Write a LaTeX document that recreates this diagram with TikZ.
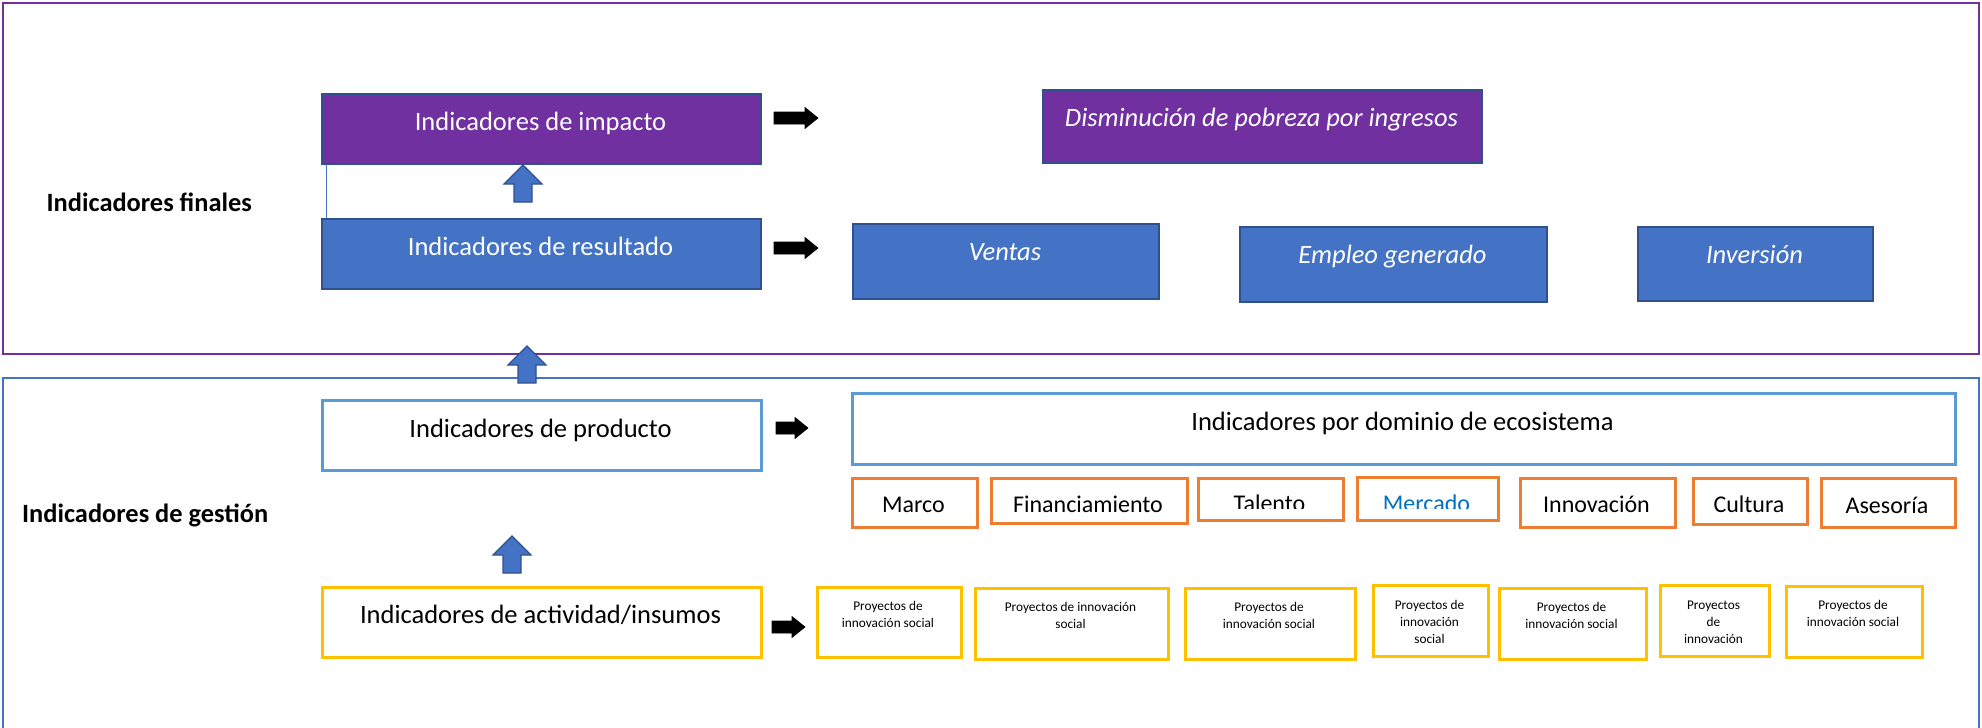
\documentclass[tikz,border=0pt]{standalone}
\usepackage{fontspec}
\setmainfont{Carlito}
\definecolor{impurple}{HTML}{7030A0}
\definecolor{resblue}{HTML}{4472C4}
\definecolor{darkblue}{HTML}{2F528F}
\definecolor{lightblue}{HTML}{5B9BD5}
\definecolor{orangeC}{HTML}{ED7D31}
\definecolor{yellowC}{HTML}{FFC000}
\definecolor{mercadoC}{HTML}{0070C0}
\tikzset{
  box/.style={anchor=north west, inner sep=0pt, line width=2pt},
  purplebox/.style={box, fill=impurple, draw=darkblue},
  bluebox/.style={box, fill=resblue, draw=darkblue},
  lbluebox/.style={box, fill=white, draw=lightblue, line width=2.5pt},
  orangebox/.style={box, fill=white, draw=orangeC, line width=2.5pt},
  yellowbox/.style={box, fill=white, draw=yellowC, line width=2.5pt},
  bigtxt/.style={anchor=base, inner sep=0pt, font=\fontsize{26.5}{32}\selectfont},
  whitetxt/.style={bigtxt, text=white},
  ittxt/.style={anchor=base, inner sep=0pt, text=white, font=\fontsize{26.5}{32}\selectfont\itshape},
  sidetxt/.style={anchor=base west, inner sep=0pt, font=\fontsize{26.4}{32}\selectfont\bfseries},
  midtxt/.style={anchor=base, inner sep=0pt, font=\fontsize{24}{28}\selectfont},
  smalltxt/.style={anchor=north, inner sep=0pt, align=center, font=\fontsize{13.3}{17}\selectfont},
  pics/uparrow/.style={code={
    \path[fill=resblue, draw=darkblue, line width=1.2pt]
      (-9,0) -- (-9,-18) -- (-19,-18) -- (0,-37) -- (19,-18) -- (9,-18) -- (9,0) -- cycle;}},
  pics/rarrow/.style={code={
    \path[fill=black, draw=black, line width=0.6pt]
      (0,-6) -- (#1,-6) -- (#1,-10.5) -- (#1+13,0) -- (#1,10.5) -- (#1,6) -- (0,6) -- cycle;}}
}
\begin{document}
\begin{tikzpicture}[x=1pt,y=-1pt]
\useasboundingbox (0,0) rectangle (1982,728);
% outer sections
\node[box, draw=impurple, minimum width=1976, minimum height=351] (finales) at (2,2) {};
\node[box, draw=resblue, minimum width=1976, minimum height=420] (gestion) at (2,377) {};
\node[sidetxt] (finaleslbl) at (46.5,211.7) {Indicadores finales};
\node[sidetxt] (gestionlbl) at (22,522) {Indicadores de gestión};

% upper section boxes
\node[purplebox, minimum width=439, minimum height=70] (impacto) at (321,93) {};
\node[bluebox, minimum width=439, minimum height=70] (resultado) at (321,218) {};
\draw[resblue, line width=1pt] ([xshift=5.5pt]impacto.south west) -- ([xshift=5.5pt]resultado.north west);
\node[whitetxt] (impactotxt) at (540.5,130) {Indicadores de impacto};
\node[whitetxt] (resultadotxt) at (540.5,255) {Indicadores de resultado};

\node[purplebox, minimum width=439, minimum height=73] (dismin) at (1042,89) {};
\node[ittxt] (dismintxt) at (1261.5,126.7) {Disminución de pobreza por ingresos};
\node[bluebox, minimum width=306, minimum height=75] (ventas) at (852,223) {};
\node[ittxt] (ventastxt) at (1005,260) {Ventas};
\node[bluebox, minimum width=307, minimum height=75] (empleo) at (1239,226) {};
\node[ittxt] (empleotxt) at (1392.5,263) {Empleo generado};
\node[bluebox, minimum width=235, minimum height=74] (inversion) at (1637,226) {};
\node[ittxt] (inversiontxt) at (1754.5,263) {Inversión};

% lower section boxes
\node[lbluebox, minimum width=439, minimum height=70] (producto) at (321,399) {};
\node[bigtxt] (productotxt) at (540.5,437) {Indicadores de producto};
\node[lbluebox, minimum width=1103, minimum height=71] (ecosistema) at (851,392) {};
\node[bigtxt] (ecosistematxt) at (1402.5,430) {Indicadores por dominio de ecosistema};

\node[orangebox, minimum width=125, minimum height=49] (marco) at (851,477) {};
\node[orangebox, minimum width=196, minimum height=45] (financ) at (990,477) {};
\node[orangebox, minimum width=145, minimum height=42] (talento) at (1197,477) {};
\node[orangebox, minimum width=141, minimum height=43] (mercado) at (1356,476) {};
\node[orangebox, minimum width=155, minimum height=49] (innov) at (1519,477) {};
\node[orangebox, minimum width=114, minimum height=46] (cultura) at (1692,477) {};
\node[orangebox, minimum width=134, minimum height=49] (asesoria) at (1820,477) {};
\node[midtxt] (marcotxt) at (913.5,512) {Marco};
\node[midtxt] (financtxt) at (1088,512) {Financiamiento};
\begin{scope}
  \clip (1199,479) rectangle (1340,508.5);
  \node[midtxt] (talentotxt) at (1269.5,511) {Talento};
\end{scope}
\begin{scope}
  \clip (1358,478) rectangle (1495,508.5);
  \node[midtxt, text=mercadoC] (mercadotxt) at (1426.5,511) {Mercado};
\end{scope}
\node[midtxt] (innovtxt) at (1596.5,512) {Innovación};
\node[midtxt] (culturatxt) at (1749,512) {Cultura};
\node[midtxt] (asesoriatxt) at (1887,513) {Asesoría};

\node[yellowbox, minimum width=439, minimum height=70] (actividad) at (321,586) {};
\node[bigtxt] (actividadtxt) at (540.5,623) {Indicadores de actividad/insumos};

\node[yellowbox, minimum width=144, minimum height=70] (p1) at (816,586) {};
\node[yellowbox, minimum width=193, minimum height=71] (p2) at (974,587) {};
\node[yellowbox, minimum width=170, minimum height=71] (p3) at (1184,587) {};
\node[yellowbox, minimum width=115, minimum height=71] (p4) at (1372,584) {};
\node[yellowbox, minimum width=147, minimum height=71] (p5) at (1498,587) {};
\node[yellowbox, minimum width=109, minimum height=71] (p6) at (1659,584) {};
\node[yellowbox, minimum width=136, minimum height=71] (p7) at (1785,585) {};
\node[smalltxt] (p1txt) at (888,601.5) {Proyectos de\\innovación social};
\node[smalltxt] (p2txt) at (1070.5,602.5) {Proyectos de innovación\\social};
\node[smalltxt] (p3txt) at (1269,602.5) {Proyectos de\\innovación social};
\node[smalltxt] (p4txt) at (1429.5,600.5) {Proyectos de\\innovación\\social};
\node[smalltxt] (p5txt) at (1571.5,602.5) {Proyectos de\\innovación social};
\node[smalltxt] (p6txt) at (1713.5,600.5) {Proyectos\\de\\innovación};
\node[smalltxt] (p7txt) at (1853,600.5) {Proyectos de\\innovación social};

% block arrows
\pic at (523,202) {uparrow};
\pic at (527,383) {uparrow};
\pic at (512,573) {uparrow};
\pic at (774,118) {rarrow=31};
\pic at (774,248) {rarrow=31};
\pic at (776,428) {rarrow=19};
\pic at (772,627) {rarrow=20};
\end{tikzpicture}
\end{document}
